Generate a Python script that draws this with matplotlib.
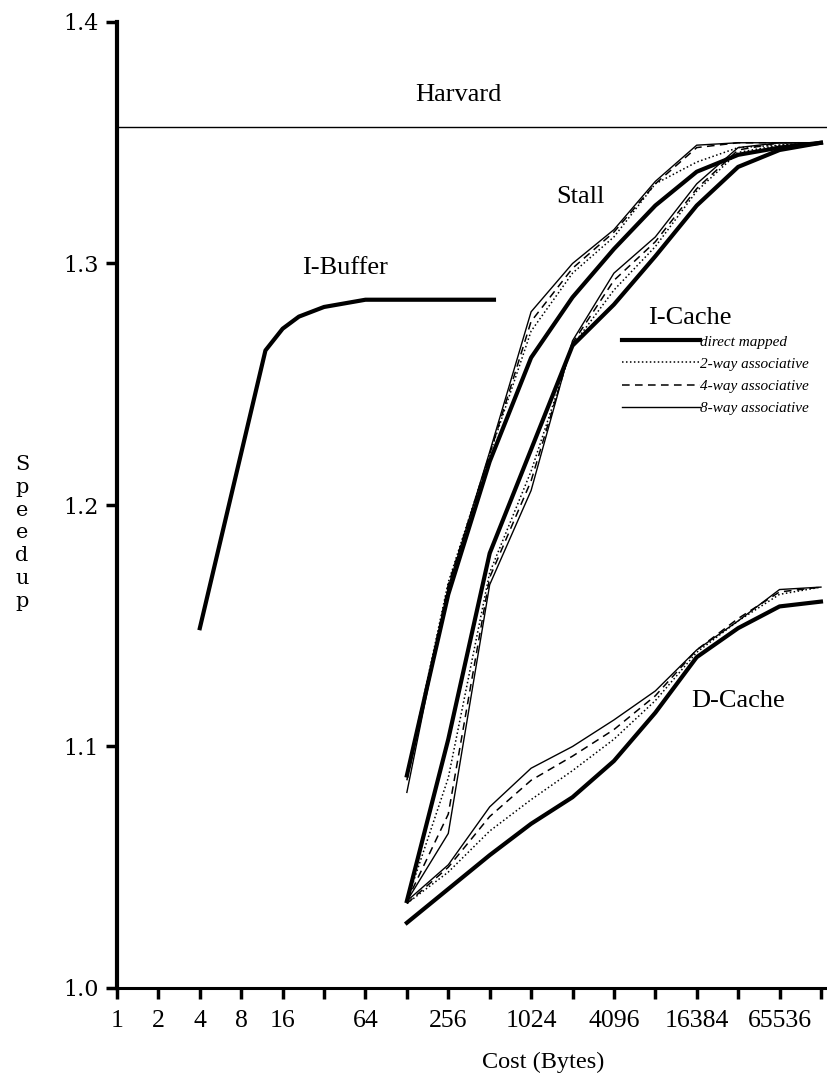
import matplotlib.pyplot as plt
import numpy as np
from matplotlib.ticker import FixedLocator, FixedFormatter

# cache sizes (bytes) used by the cache curves: 128 .. 131072
cache_sizes = [128, 256, 512, 1024, 2048, 4096, 8192, 16384, 32768, 65536, 131072]

stall_dm = [1.088, 1.163, 1.218, 1.261, 1.286, 1.306, 1.324, 1.338, 1.345, 1.348, 1.350]
stall_2w = [1.088, 1.168, 1.221, 1.272, 1.296, 1.311, 1.333, 1.342, 1.348, 1.349, 1.350]
stall_4w = [1.086, 1.167, 1.221, 1.276, 1.298, 1.313, 1.333, 1.348, 1.350, 1.350, 1.350]
stall_8w = [1.081, 1.166, 1.222, 1.280, 1.300, 1.314, 1.334, 1.349, 1.350, 1.350, 1.350]

icache_dm = [1.036, 1.103, 1.180, 1.223, 1.266, 1.283, 1.303, 1.324, 1.340, 1.347, 1.350]
icache_2w = [1.036, 1.087, 1.172, 1.214, 1.266, 1.289, 1.307, 1.330, 1.346, 1.349, 1.350]
icache_4w = [1.036, 1.072, 1.170, 1.210, 1.267, 1.293, 1.309, 1.331, 1.347, 1.350, 1.350]
icache_8w = [1.036, 1.064, 1.167, 1.206, 1.268, 1.296, 1.311, 1.333, 1.348, 1.350, 1.350]

dcache_dm = [1.027, 1.041, 1.055, 1.068, 1.079, 1.094, 1.114, 1.137, 1.149, 1.158, 1.160]
dcache_2w = [1.035, 1.048, 1.065, 1.078, 1.090, 1.103, 1.119, 1.139, 1.152, 1.163, 1.166]
dcache_4w = [1.035, 1.050, 1.071, 1.086, 1.096, 1.107, 1.121, 1.140, 1.153, 1.164, 1.166]
dcache_8w = [1.036, 1.051, 1.075, 1.091, 1.100, 1.111, 1.123, 1.140, 1.152, 1.165, 1.166]

ibuf_sizes = [4, 12, 16, 21, 32, 64, 550]
ibuf_speedup = [1.149, 1.264, 1.273, 1.278, 1.282, 1.285, 1.285]

harvard = 1.3565

xtick_vals = [2 ** k for k in range(18)]
xtick_labels = ['1', '2', '4', '8', '16', '', '64', '', '256', '', '1024', '',
                '4096', '', '16384', '', '65536', '']
ytick_vals = [1.0, 1.1, 1.2, 1.3, 1.4]
ytick_labels = ['1.0', '1.1', '1.2', '1.3', '1.4']

legend_labels = ['direct mapped', '2-way associative', '4-way associative', '8-way associative']

plt.rcParams['font.family'] = ['Liberation Serif', 'DejaVu Serif']

fig = plt.figure(figsize=(8.28, 10.85), dpi=100)
ax = fig.add_axes([117 / 828, 1 - 988 / 1085, 1 - 117 / 828, (988 - 22) / 1085])

styles = [dict(lw=3.0, ls='-'),
          dict(lw=1.1, ls=(0, (1, 1.6))),
          dict(lw=1.1, ls=(0, (5, 3.5))),
          dict(lw=1.0, ls='-')]

groups = [(stall_dm, stall_2w, stall_4w, stall_8w),
          (icache_dm, icache_2w, icache_4w, icache_8w),
          (dcache_dm, dcache_2w, dcache_4w, dcache_8w)]

for gi, group in enumerate(groups):
    for series, st, lab in zip(group, styles, legend_labels):
        ax.plot(cache_sizes, series, color='black', solid_joinstyle='round',
                label=lab if gi == 0 else None, **st)

ax.plot(ibuf_sizes, ibuf_speedup, color='black', lw=3.0, solid_joinstyle='round')
ax.axhline(harvard, color='black', lw=1.0)

ax.set_xscale('log', base=2)
ax.set_xlim(1, 2 ** 17.17)
ax.set_ylim(1.0, 1.4)

ax.xaxis.set_major_locator(FixedLocator(xtick_vals))
ax.xaxis.set_major_formatter(FixedFormatter(xtick_labels))
ax.xaxis.set_minor_locator(FixedLocator([]))
ax.set_yticks(ytick_vals)
ax.set_yticklabels(ytick_labels, family='DejaVu Serif', fontsize=16)

for lbl in ax.get_xticklabels():
    lbl.set_fontsize(18.5)

ax.tick_params(axis='x', direction='out', length=8, width=2.5, pad=8)
ax.tick_params(axis='y', direction='out', length=8, width=2.5, pad=5)

for s in ['top', 'right']:
    ax.spines[s].set_visible(False)
ax.spines['left'].set_linewidth(3.0)
ax.spines['bottom'].set_linewidth(2.2)

ax.set_xlabel('Cost (Bytes)', fontsize=17.5)
ax.xaxis.set_label_coords((543 - 117) / 711, -0.066)

fig.text(22 / 828, 1 - 533 / 1085, 'S\np\ne\ne\nd\nu\np', family='DejaVu Serif',
         fontsize=15, ha='center', va='center', linespacing=1.25)

ax.text(302, 1.3698, 'Harvard', fontsize=19, ha='center', va='center')
ax.text(45.5, 1.298, 'I-Buffer', fontsize=19, ha='center', va='center')
ax.text(2325, 1.3275, 'Stall', fontsize=19, ha='center', va='center')
ax.text(14700, 1.2774, 'I-Cache', fontsize=19, ha='center', va='center')
ax.text(32768, 1.119, 'D-Cache', fontsize=19, ha='center', va='center')

leg = ax.legend(loc='upper left', bbox_to_anchor=(622 / 828, 1 - 335 / 1085),
                bbox_transform=fig.transFigure, frameon=False, fontsize=11,
                handlelength=5.1, handletextpad=0.0, labelspacing=0.55,
                borderpad=0, borderaxespad=0)
for t in leg.get_texts():
    t.set_style('italic')

fig.savefig('out.png', dpi=100)
